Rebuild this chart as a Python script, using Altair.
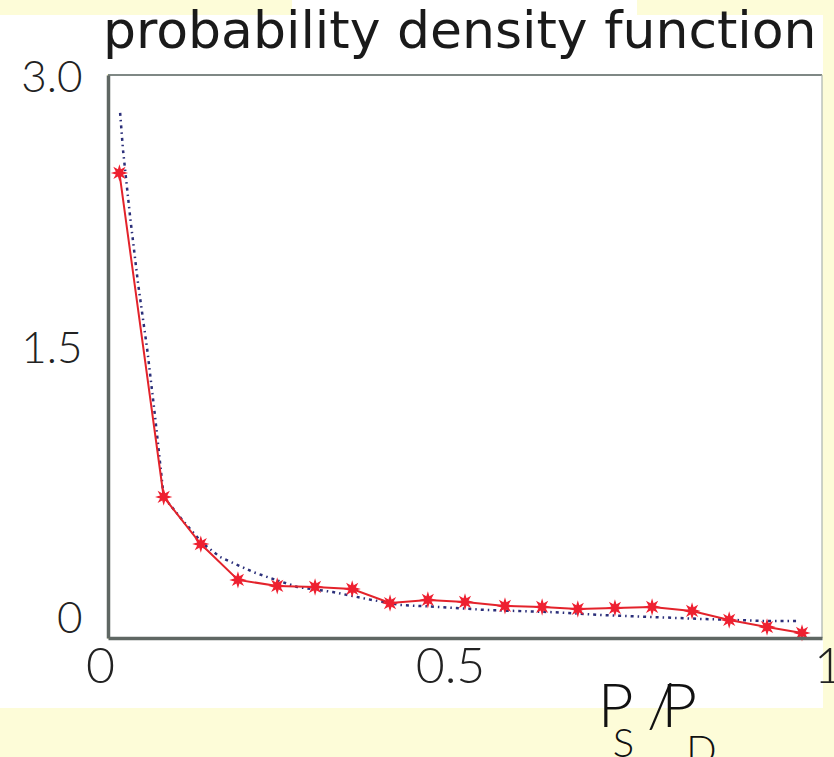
import altair as alt
import pandas as pd

# measured series (x = P_S/P_D, y = density)
red_x = [0.016, 0.078, 0.130, 0.182, 0.237, 0.290, 0.342, 0.395, 0.448, 0.500,
         0.556, 0.608, 0.658, 0.710, 0.762, 0.818, 0.870, 0.923, 0.972]
red_y = [2.479, 0.682, 0.421, 0.222, 0.189, 0.183, 0.172, 0.094, 0.111, 0.100,
         0.078, 0.072, 0.061, 0.067, 0.072, 0.050, 0.000, -0.039, -0.072]

fit_x = [0.017, 0.021, 0.031, 0.042, 0.055, 0.066, 0.074, 0.078, 0.104, 0.132,
         0.157, 0.203, 0.227, 0.265, 0.315, 0.363, 0.409, 0.465, 0.531, 0.619,
         0.689, 0.829, 0.923, 0.969]
fit_y = [2.812, 2.607, 2.235, 1.869, 1.498, 1.126, 0.832, 0.682, 0.555, 0.427,
         0.349, 0.266, 0.233, 0.183, 0.155, 0.116, 0.083, 0.072, 0.055, 0.044,
         0.028, 0.006, -0.006, -0.006]

x_ticks = [0, 0.5, 1]
y_ticks = [0, 1.5, 3.0]
title_text = "probability density function"

red = pd.DataFrame({"x": red_x, "y": red_y})
fit = pd.DataFrame({"x": fit_x, "y": fit_y})

FONT = "Lato"
FW = 300
W, H = 714, 563
xs = alt.Scale(domain=[0, 1], nice=False, zero=False)
ys = alt.Scale(domain=[-0.1, 3.022], nice=False, zero=False)

STAR = ("M1,0 L0.42,0.174 L0.707,0.707 L0.174,0.42 L0,1 L-0.174,0.42 L-0.707,0.707 "
        "L-0.42,0.174 L-1,0 L-0.42,-0.174 L-0.707,-0.707 L-0.174,-0.42 L0,-1 "
        "L0.174,-0.42 L0.707,-0.707 L0.42,-0.174 Z")

base_df = pd.DataFrame({"a": [0]})

def white(x1, x2, y1, y2):
    return alt.Chart(base_df).mark_rect(color="white").encode(
        x=alt.value(x1), x2=alt.value(x2), y=alt.value(y1), y2=alt.value(y2))

# white card behind the plot (left, top, bottom strips + title patch)
backing = [white(-108, -1, -60, 633), white(-108, 715, -60, -1),
           white(-108, 715, 564, 633), white(184, 529, -75, -55)]

frame_top = alt.Chart(base_df).mark_rule(color="#7f8885", strokeWidth=2).encode(
    x=alt.value(0), x2=alt.value(714), y=alt.value(0))
frame_right = alt.Chart(base_df).mark_rule(color="#aab2b0", strokeWidth=1.2).encode(
    x=alt.value(714), y=alt.value(0), y2=alt.value(563))

title = alt.Chart(base_df).mark_text(
    text=title_text, font="DejaVu Sans", fontSize=52, fontWeight="normal",
    color="#1a1a1a", align="left", baseline="alphabetic").encode(
    x=alt.value(-5), y=alt.value(-27))

x_axis = alt.Axis(
    values=x_ticks, title=None, grid=False, ticks=False, tickSize=0, zindex=2,
    labelFont=FONT, labelFontSize=50, labelFontWeight=FW, labelColor="#222222",
    labelPadding=4,
    labelExpr="datum.value == 0 ? '0' : datum.value == 1 ? '1' : format(datum.value, '.1f')",
    labelOffset={"condition": [{"test": "datum.value == 0", "value": -8},
                               {"test": "datum.value == 0.5", "value": -15}],
                 "value": 6},
    domainColor="#5f6763", domainWidth=3.5, labelFlush=False, labelOverlap=False)
y_axis = alt.Axis(
    values=y_ticks, title=None, grid=False, ticks=False, tickSize=0, zindex=2,
    labelFont=FONT, labelFontSize=44, labelFontWeight=FW, labelColor="#222222",
    labelPadding=26,
    labelExpr="datum.value == 0 ? '0' : format(datum.value, '.1f')",
    domainColor="#5f6763", domainWidth=3.5, labelFlush=False, labelOverlap=False)

fit_line = alt.Chart(fit).mark_line(
    color="#2b2f7a", strokeWidth=2.5, strokeDash=[3, 4, 1.5, 4]).encode(
    x=alt.X("x:Q", scale=xs, axis=x_axis),
    y=alt.Y("y:Q", scale=ys, axis=y_axis))

red_line = alt.Chart(red).mark_line(color="#e3232b", strokeWidth=2).encode(
    x=alt.X("x:Q", scale=xs), y=alt.Y("y:Q", scale=ys))
red_pts = alt.Chart(red).mark_point(
    shape=STAR, filled=True, color="#ee2030", size=300, opacity=1).encode(
    x=alt.X("x:Q", scale=xs), y=alt.Y("y:Q", scale=ys))

def piece(txt, xv, yv, fs):
    return alt.Chart(base_df).mark_text(
        text=txt, font=FONT, fontSize=fs, fontWeight=FW, color="#111111",
        align="left", baseline="alphabetic").encode(
        x=alt.datum(xv, scale=xs), y=alt.datum(yv, scale=ys))

x_title = (piece("P", 0.686, -0.593, 62) + piece("S", 0.707, -0.76, 40) +
           piece("/", 0.755, -0.593, 62) + piece("P", 0.775, -0.593, 62) +
           piece("D", 0.810, -0.80, 40))

chart = alt.layer(*backing, frame_top, frame_right, fit_line, red_line, red_pts,
                  x_title, title).properties(
    width=W, height=H,
    autosize=alt.AutoSizeParams(type="none"),
    padding={"left": 108, "top": 75, "right": 12, "bottom": 119},
    background="#fdfcd8",
).configure_view(stroke=None, fill="white")

chart.save("out.html", embed_options={"renderer": "svg", "actions": False})
